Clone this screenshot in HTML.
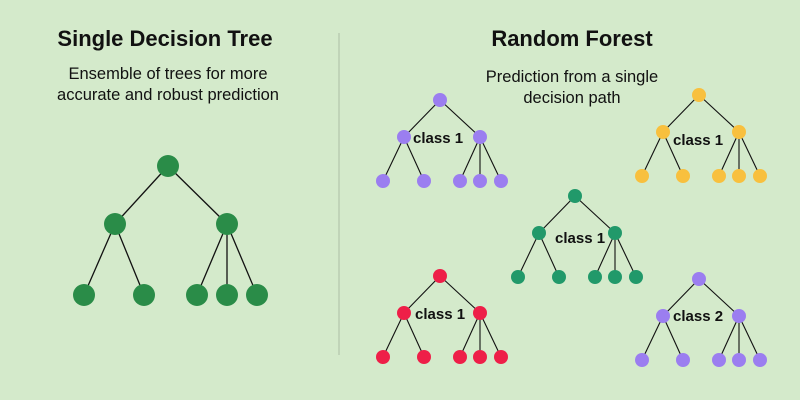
<!DOCTYPE html>
<html><head><meta charset="utf-8"><style>
body{margin:0;background:#d4eacb;}
svg{display:block}
text{font-family:"Liberation Sans",sans-serif;fill:#111;}
</style></head><body>
<svg width="800" height="400" viewBox="0 0 800 400" xmlns="http://www.w3.org/2000/svg">
<rect width="800" height="400" fill="#d4eacb"/>
<line x1="339" y1="33" x2="339" y2="355" stroke="#b9cdb2" stroke-width="1.5"/>
<text x="165" y="46" font-size="22" font-weight="bold" text-anchor="middle">Single Decision Tree</text>
<text x="168" y="79" font-size="16.5" text-anchor="middle">Ensemble of trees for more</text>
<text x="168" y="100" font-size="16.5" text-anchor="middle">accurate and robust prediction</text>
<text x="572" y="46" font-size="22" font-weight="bold" text-anchor="middle">Random Forest</text>
<text x="572" y="82" font-size="16.5" text-anchor="middle">Prediction from a single</text>
<text x="572" y="103" font-size="16.5" text-anchor="middle">decision path</text>
<g stroke="#111" stroke-width="1.3">
<line x1="168" y1="166" x2="115" y2="224"/><line x1="168" y1="166" x2="227" y2="224"/>
<line x1="115" y1="224" x2="84" y2="295"/><line x1="115" y1="224" x2="144" y2="295"/>
<line x1="227" y1="224" x2="197" y2="295"/><line x1="227" y1="224" x2="227" y2="295"/><line x1="227" y1="224" x2="257" y2="295"/>
</g>
<g fill="#2a8c48">
<circle cx="168" cy="166" r="11"/><circle cx="115" cy="224" r="11"/><circle cx="227" cy="224" r="11"/>
<circle cx="84" cy="295" r="11"/><circle cx="144" cy="295" r="11"/><circle cx="197" cy="295" r="11"/><circle cx="227" cy="295" r="11"/><circle cx="257" cy="295" r="11"/>
</g>
<defs>
<g id="t">
<g stroke="#111" stroke-width="1.1">
<line x1="0" y1="0" x2="-36" y2="37"/><line x1="0" y1="0" x2="40" y2="37"/>
<line x1="-36" y1="37" x2="-57" y2="81"/><line x1="-36" y1="37" x2="-16" y2="81"/>
<line x1="40" y1="37" x2="20" y2="81"/><line x1="40" y1="37" x2="40" y2="81"/><line x1="40" y1="37" x2="61" y2="81"/>
</g>
<circle cx="0" cy="0" r="7"/><circle cx="-36" cy="37" r="7"/><circle cx="40" cy="37" r="7"/>
<circle cx="-57" cy="81" r="7"/><circle cx="-16" cy="81" r="7"/><circle cx="20" cy="81" r="7"/><circle cx="40" cy="81" r="7"/><circle cx="61" cy="81" r="7"/>
</g>
</defs>
<use href="#t" x="440" y="100" fill="#9b7ef0"/>
<use href="#t" x="699" y="95" fill="#f8c03e"/>
<use href="#t" x="575" y="196" fill="#21996a"/>
<use href="#t" x="440" y="276" fill="#ee1f48"/>
<use href="#t" x="699" y="279" fill="#9b7ef0"/>
<g font-size="15" font-weight="bold">
<text x="413" y="143">class 1</text>
<text x="673" y="145">class 1</text>
<text x="555" y="243">class 1</text>
<text x="415" y="319">class 1</text>
<text x="673" y="321">class 2</text>
</g>
</svg>
</body></html>
